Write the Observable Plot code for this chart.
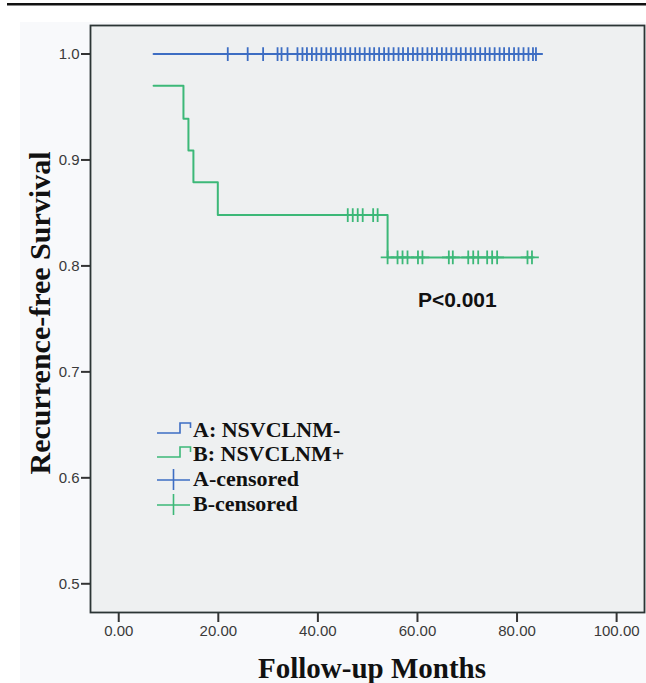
<!DOCTYPE html>
<html><head><meta charset="utf-8">
<script src="https://cdn.jsdelivr.net/npm/d3@7"></script>
<script src="https://cdn.jsdelivr.net/npm/@observablehq/plot@0.6"></script>
<style>
html,body{margin:0;padding:0;background:#fff;}
#chart{position:relative;width:646px;height:683px;overflow:hidden;}
</style></head><body><div id="chart"></div>
<script>
// ---- data ----
const groupNames = ["A: NSVCLNM-", "B: NSVCLNM+"];
const censorNames = ["A-censored", "B-censored"];
const groupColors = ["#3d6dc3", "#3cb878"];

// Group A Kaplan-Meier step curve
const stepATime = [7.0, 83.8];
const stepASurv = [1.0, 1.0];
// Group B Kaplan-Meier step curve
const stepBTime = [7.0, 13.0, 14.0, 15.0, 19.9, 54.0, 83.0];
const stepBSurv = [0.970, 0.939, 0.909, 0.879, 0.848, 0.808, 0.808];

// censored observations
const censorATime = [21.9, 25.9, 29.0, 31.9, 32.7, 33.9, 35.9, 36.9, 37.8, 38.8, 39.7, 40.7, 41.7, 42.6, 43.6, 44.6, 45.5, 46.5, 47.5, 48.4, 49.4, 50.4, 51.3, 52.3, 53.3, 54.2, 55.2, 56.2, 57.1, 58.1, 59.1, 60.0, 61.0, 62.0, 62.9, 63.9, 64.9, 65.8, 66.8, 67.8, 68.7, 69.7, 70.7, 71.6, 72.6, 73.6, 74.5, 75.5, 76.5, 77.4, 78.4, 79.4, 80.3, 81.3, 82.3, 83.2, 83.8];
const censorASurv = 1.0;
const censorBTime = [46.0, 47.0, 48.0, 49.0, 51.1, 52.0, 54.0, 56.0, 57.0, 58.0, 60.1, 61.0, 66.3, 67.1, 70.2, 71.2, 72.2, 74.0, 75.0, 76.0, 82.1, 83.0];
const censorBSurv = [0.848, 0.848, 0.848, 0.848, 0.848, 0.848, 0.808, 0.808, 0.808, 0.808, 0.808, 0.808, 0.808, 0.808, 0.808, 0.808, 0.808, 0.808, 0.808, 0.808, 0.808, 0.808];

const xTicks = [0, 20, 40, 60, 80, 100];
const yTicks = [0.5, 0.6, 0.7, 0.8, 0.9, 1.0];
const xDomain = [-5.67, 105.6];
const yDomain = [0.4729, 1.0269];
const xTitle = "Follow-up Months";
const yTitle = "Recurrence-free Survival";
const pText = "P<0.001";
const pX = 68.0, pY = 0.768;

// ---- tables built from the arrays ----
const lineA = stepATime.map((t, i) => ({t, s: stepASurv[i]}));
const lineB = stepBTime.map((t, i) => ({t, s: stepBSurv[i]}));
const censA = censorATime.map(t => ({t, s: censorASurv}));
const censB = censorBTime.map((t, i) => ({t, s: censorBSurv[i]}));

const W = 646, H = 683;
const M = {top: 25, right: 2, bottom: 71, left: 90};

const plot = Plot.plot({
  width: W, height: H,
  marginTop: M.top, marginRight: M.right, marginBottom: M.bottom, marginLeft: M.left,
  style: {fontFamily: "'Liberation Sans', Arial, sans-serif", fontSize: "15px", color: "#333", background: "transparent"},
  x: {domain: xDomain},
  y: {domain: yDomain},
  marks: [
    Plot.frame({fill: "#eef0f1", stroke: "none"}),
    Plot.axisX({ticks: xTicks, tickFormat: d3.format(".2f"), tickSize: 10, tickPadding: 3, strokeWidth: 2, label: null, fill: "#3a3a3a"}),
    Plot.axisY({ticks: yTicks, tickFormat: d3.format(".1f"), tickSize: 9, tickPadding: 2, strokeWidth: 2, label: null, fill: "#3a3a3a"}),
    Plot.line(lineA, {x: "t", y: "s", curve: "step-after", stroke: groupColors[0], strokeWidth: 2}),
    Plot.line(lineB, {x: "t", y: "s", curve: "step-after", stroke: groupColors[1], strokeWidth: 2}),
    Plot.dot(censA, {x: "t", y: "s", symbol: "plus", r: 4.5, stroke: groupColors[0], strokeWidth: 1.8}),
    Plot.dot(censB, {x: "t", y: "s", symbol: "plus", r: 4.5, stroke: groupColors[1], strokeWidth: 1.8}),
    Plot.text([{label: pText, x: pX, y: pY}], {x: "x", y: "y", text: "label", fontFamily: "'Liberation Sans', Arial, sans-serif", fontWeight: "bold", fontSize: 21, fill: "#111", textAnchor: "middle"}),
    Plot.frame({stroke: "#2b3535", strokeWidth: 1.8})
  ]
});

const svg = d3.select(plot);
// figure background & page rule (inserted behind everything)
svg.insert("rect", ":first-child").attr("x", 20).attr("y", 22).attr("width", W - 20).attr("height", H - 22).attr("fill", "#f8f9fb");
svg.insert("rect", ":first-child").attr("x", 0).attr("y", 0).attr("width", W).attr("height", H).attr("fill", "#fff");
svg.append("rect").attr("x", 7).attr("y", 3).attr("width", W - 7).attr("height", 2.5).attr("fill", "#111");

// axis titles
const serif = "'Liberation Serif', 'Times New Roman', serif";
svg.append("text").attr("x", 372).attr("y", 678).attr("text-anchor", "middle")
  .attr("font-family", serif).attr("font-weight", "bold").attr("font-size", 29).attr("fill", "#111").text(xTitle);
svg.append("text").attr("transform", "translate(50,313) rotate(-90)").attr("text-anchor", "middle")
  .attr("font-family", serif).attr("font-weight", "bold").attr("font-size", 30).attr("fill", "#111").text(yTitle);

// legend
const leg = svg.append("g");
const baselines = [437, 461, 486, 511];
const legendItems = [
  {label: groupNames[0], color: groupColors[0], kind: "step"},
  {label: groupNames[1], color: groupColors[1], kind: "step"},
  {label: censorNames[0], color: groupColors[0], kind: "cross"},
  {label: censorNames[1], color: groupColors[1], kind: "cross"}
];
legendItems.forEach((d, i) => {
  const b = baselines[i];
  if (d.kind === "step") {
    leg.append("path").attr("d", `M157,${b-4}H180V${b-14}H190.5V${b-9}`)
      .attr("fill", "none").attr("stroke", d.color).attr("stroke-width", 1.6);
  } else {
    leg.append("path").attr("d", `M157,${b-6}H190M173.5,${b-17}V${b+4}`)
      .attr("fill", "none").attr("stroke", d.color).attr("stroke-width", 1.6);
  }
  leg.append("text").attr("x", 193).attr("y", b).attr("text-anchor", "start").attr("font-family", serif).attr("font-weight", "bold")
    .attr("font-size", 22).attr("fill", "#111").text(d.label);
});

document.getElementById("chart").appendChild(plot);
</script>
</body></html>
